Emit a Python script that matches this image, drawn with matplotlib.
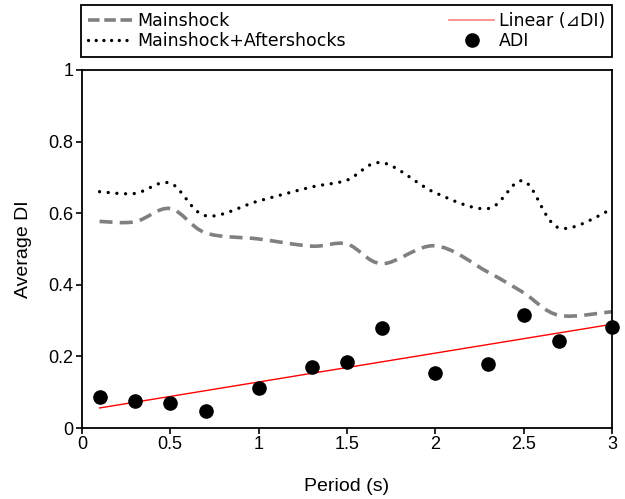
import numpy as np
import matplotlib
matplotlib.use("Agg")
import matplotlib.pyplot as plt
from matplotlib.path import Path
from matplotlib.patches import PathPatch
from matplotlib.lines import Line2D

plt.rcParams["font.family"] = ["Liberation Sans", "DejaVu Sans"]

period = [0.1, 0.3, 0.5, 0.7, 1.0, 1.3, 1.5, 1.7, 2.0, 2.3, 2.5, 2.7, 3.0]
mainshock = [0.577, 0.576, 0.613, 0.545, 0.528, 0.508, 0.514, 0.459, 0.509, 0.435, 0.378, 0.315, 0.325]
main_after = [0.660, 0.655, 0.684, 0.593, 0.634, 0.673, 0.692, 0.741, 0.657, 0.613, 0.690, 0.559, 0.611]
adi = [0.087, 0.076, 0.070, 0.048, 0.112, 0.171, 0.185, 0.280, 0.154, 0.179, 0.317, 0.244, 0.283]


def smooth_path(x, y):
    # Catmull-Rom style cubic Bezier through the points (like spreadsheet "smoothed line")
    p = np.column_stack([x, y])
    n = len(p)
    verts = [p[0]]
    codes = [Path.MOVETO]
    for i in range(n - 1):
        p0 = p[i - 1] if i > 0 else p[i]
        p3 = p[i + 2] if i + 2 < n else p[i + 1]
        c1 = p[i] + (p[i + 1] - p0) / 6
        c2 = p[i + 1] - (p3 - p[i]) / 6
        verts += [c1, c2, p[i + 1]]
        codes += [Path.CURVE4] * 3
    return Path(verts, codes)


fig = plt.figure(figsize=(6.25, 4.99), dpi=100)
ax = fig.add_axes([0.131, 0.142, 0.848, 0.718])

dash_style = dict(color="#808080", lw=2.6, ls=(0, (3.6, 2.0)))
dot_style = dict(color="black", lw=2.4, ls=(0, (0.01, 2.6)))

ax.add_patch(PathPatch(smooth_path(period, mainshock), fill=False, capstyle="butt",
                       edgecolor=dash_style["color"], linewidth=dash_style["lw"], linestyle=dash_style["ls"]))
ax.add_patch(PathPatch(smooth_path(period, main_after), fill=False, capstyle="round",
                       edgecolor=dot_style["color"], linewidth=dot_style["lw"], linestyle=dot_style["ls"]))

coef = np.polyfit(period, adi, 1)
xfit = np.array([period[0], period[-1]])
ax.plot(xfit, np.polyval(coef, xfit), color="#ff0000", lw=1.0, zorder=3)
ax.plot(period, adi, "o", color="black", ms=9.5, zorder=4, clip_on=False)

ax.set_xlim(0, 3)
ax.set_ylim(0, 1)
ax.set_xticks([0, 0.5, 1, 1.5, 2, 2.5, 3])
ax.set_xticklabels(["0", "0.5", "1", "1.5", "2", "2.5", "3"])
ax.set_yticks([0, 0.2, 0.4, 0.6, 0.8, 1])
ax.set_yticklabels(["0", "0.2", "0.4", "0.6", "0.8", "1"])
ax.tick_params(labelsize=13, length=4, width=1.2, pad=2)
for s in ax.spines.values():
    s.set_linewidth(1.3)
ax.set_xlabel("Period (s)", fontsize=14, labelpad=18)
ax.set_ylabel("Average DI", fontsize=14, labelpad=12)

handles = [
    Line2D([], [], color=dash_style["color"], lw=dash_style["lw"], ls=(0, (3.2, 1.3))),
    Line2D([], [], color="black", lw=dot_style["lw"], ls=(0, (0.01, 2.3)), dash_capstyle="round"),
    Line2D([], [], color="#ff8080", lw=1.2),
    Line2D([], [], color="black", marker="o", ms=9.5, ls="none"),
]
labels = ["Mainshock", "Mainshock+Aftershocks", "Linear (⊿DI)", "ADI"]
leg = fig.legend(handles, labels, ncol=2, mode="expand", loc="lower left",
                 bbox_to_anchor=(0.1296, 0.886, 0.8496, 0.1), prop={"family": "DejaVu Sans", "size": 12.5},
                 fancybox=False, edgecolor="black", framealpha=1,
                 borderaxespad=0, handletextpad=0.25, labelspacing=0.12,
                 borderpad=0.4, handlelength=2.6)
leg.get_frame().set_linewidth(1.3)

fig.savefig("out.png", dpi=100)
